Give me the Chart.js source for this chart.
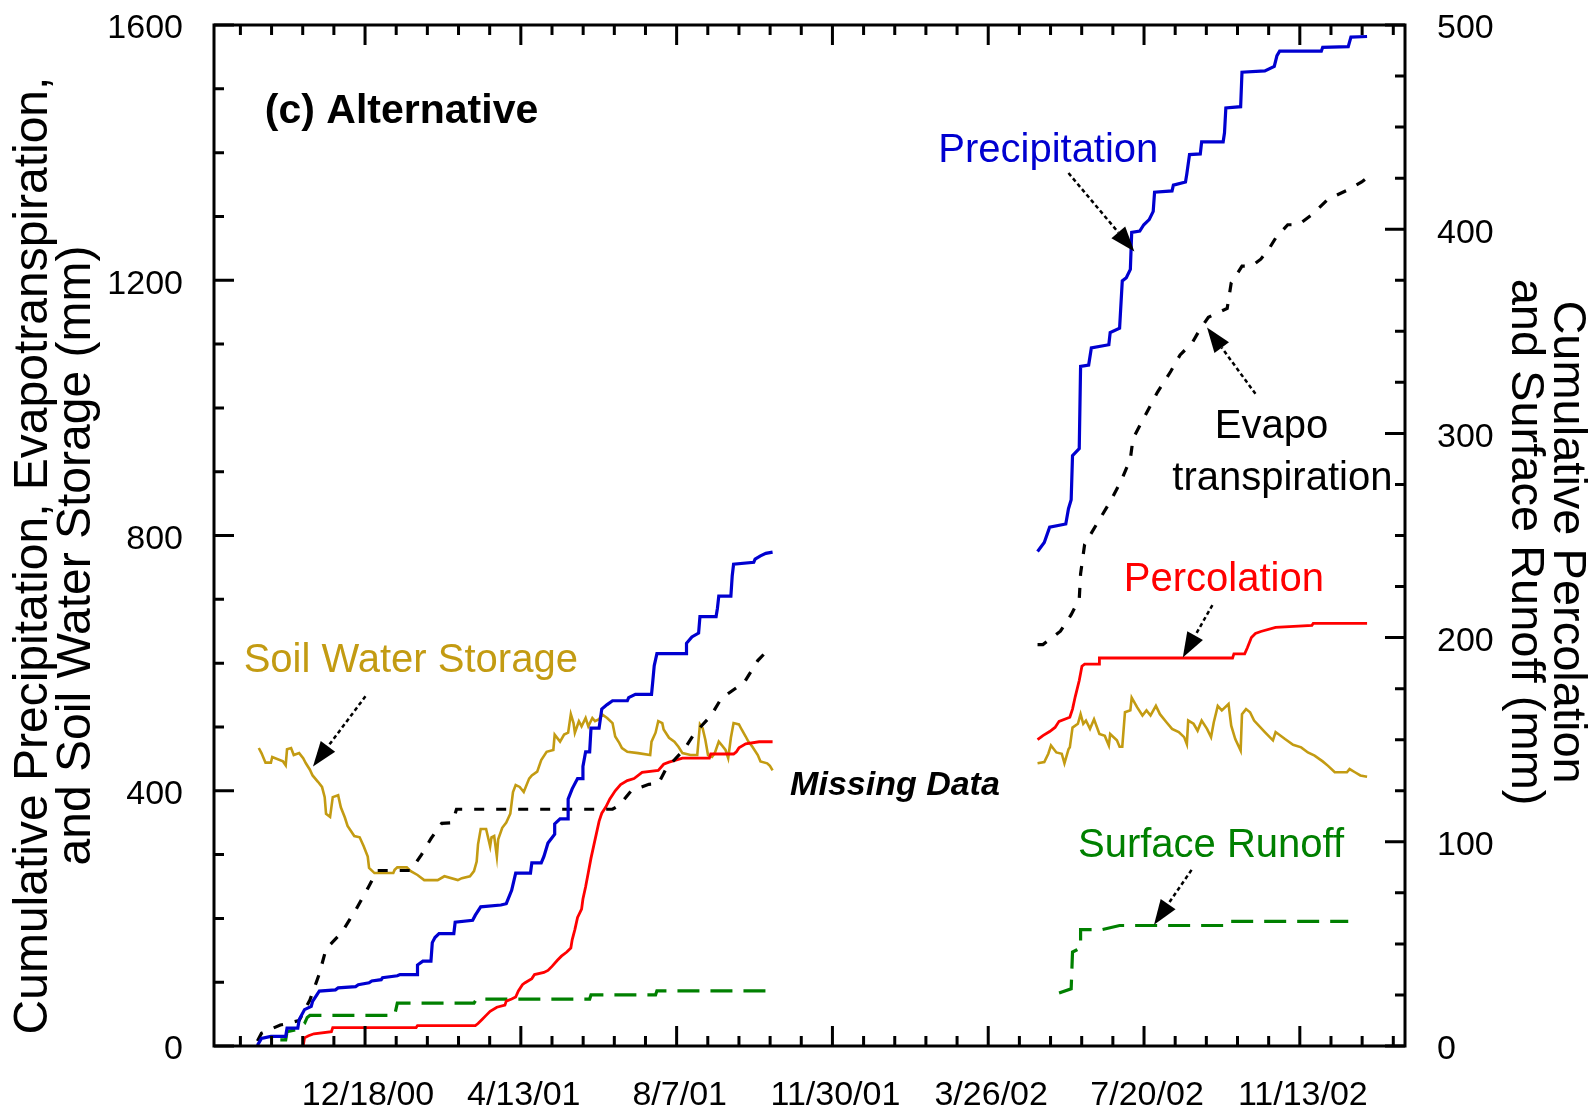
<!DOCTYPE html>
<html>
<head>
<meta charset="utf-8">
<title>(c) Alternative - cumulative water balance</title>
<script src="https://cdn.jsdelivr.net/npm/chart.js@4.4.1/dist/chart.umd.min.js"></script>
<style>
  html, body { margin: 0; padding: 0; background: #fff; }
  canvas { display: block; }
</style>
</head>
<body>
<canvas id="chart" width="1590" height="1109"></canvas>
<script>
// x values are days after 12/18/2000; a null value marks the missing-data gap
const xTickLabels = ['12/18/00', '4/13/01', '8/7/01', '11/30/01', '3/26/02', '7/20/02', '11/13/02'];
const xTickDays = [0, 115.8, 231.7, 347.5, 463.3, 579.2, 695];
const xMin = -112.3, xMax = 773.2;

// Precipitation (mm, left axis)
const precipDays = [-80,-77,-70,-59,-58,-50,-49,-45,-40,-39,-35,-34,-22,-20,-7,-5,3,5,12,13,24,26,39,39,43,49,50,52,55,66,67,80,82,86,101,105,109,112,123,124,131,133,136,141,141,145,151,151,154,158,162,162,164,167,168,174,176,180,184,195,196,201,213,214,215,217,239,239,243,248,249,261,262,263,272,273,274,289,290,294,298,303,
  400,
  500,505,509,521,523,525,526,531,532,538,540,553,554,561,563,566,569,570,576,579,583,586,587,600,601,610,611,613,621,622,638,639,640,651,652,669,676,678,680,711,712,731,733,745];
const precipMm = [1,12,15,15,28,28,41,57,62,70,83,86,88,91,93,96,99,102,104,107,110,112,112,127,133,133,162,170,176,176,194,197,205,218,221,223,244,271,271,287,287,297,318,332,348,356,356,387,403,419,419,438,461,461,498,498,528,535,541,541,546,551,551,573,596,615,615,631,641,647,673,673,686,705,705,737,755,758,763,768,772,774,
  null,
  775,789,813,818,842,856,925,936,1065,1067,1094,1099,1118,1125,1199,1204,1217,1275,1277,1287,1295,1308,1338,1340,1349,1354,1367,1397,1398,1417,1417,1431,1470,1472,1526,1528,1535,1552,1559,1559,1565,1566,1581,1582];

// Evapotranspiration (mm, left axis)
const etDays = [-80,-77,-63,-60,-49,-41,-34,-29,-17,-7,2,9,34,42,49,57,65,68,184,189,198,211,218,224,237,245,257,265,282,292,297,
  400,
  500,504,517,525,531,532,535,544,554,562,569,571,579,589,599,606,615,621,627,641,644,652,659,666,672,677,686,694,704,716,730,741,744];
const etMm = [8,20,33,34,40,72,113,152,179,213,247,275,275,300,325,349,350,371,371,377,400,410,411,435,464,490,517,545,570,604,615,
  null,
  629,629,650,676,700,740,786,818,853,885,920,952,984,1024,1057,1083,1102,1124,1142,1156,1196,1222,1222,1233,1249,1266,1287,1287,1303,1327,1341,1354,1359];

// Soil water storage (mm, left axis)
const soilDays = [-79,-77,-74,-70,-69,-61,-59,-58,-55,-53,-49,-46,-44,-41,-39,-35,-32,-30,-29,-26,-24,-20,-18,-15,-13,-8,-4,-1,2,3,7,21,22,24,31,34,39,44,54,59,69,72,78,81,83,84,86,90,93,94,96,98,99,102,105,108,110,112,115,118,122,124,128,131,135,140,141,145,148,151,153,155,156,159,161,164,166,169,171,174,176,180,184,186,189,191,195,203,212,213,216,218,221,222,226,230,233,236,242,247,249,251,253,255,258,260,263,265,268,270,272,274,278,280,283,285,288,292,294,299,301,303,
  400,
  500,505,508,510,514,518,520,523,524,526,530,532,534,536,539,542,546,550,553,554,559,561,563,565,569,570,574,578,581,584,588,591,596,600,605,609,611,612,616,619,622,626,629,631,634,637,642,644,647,651,652,655,658,661,669,675,677,684,690,696,701,706,712,716,721,730,732,736,740,745];
const soilMm = [467,459,444,444,453,446,440,465,467,456,459,451,443,433,424,414,406,390,364,359,390,393,374,358,345,329,327,313,297,279,271,271,276,280,280,274,268,260,260,266,260,263,266,274,289,316,340,340,313,327,329,297,324,342,350,364,398,409,406,398,419,424,430,448,461,464,488,477,488,491,520,506,491,509,501,514,501,514,509,512,520,514,506,485,475,467,461,459,456,477,491,509,506,496,483,477,469,459,456,456,504,498,480,456,453,459,477,472,464,451,483,506,504,496,485,477,469,456,446,443,439,432,
  null,
  443,445,458,471,460,458,443,465,468,499,505,520,505,510,497,512,489,486,471,489,479,469,469,523,526,546,531,518,526,518,533,520,507,497,492,484,473,510,505,494,510,497,484,507,533,526,536,502,481,463,520,528,523,510,492,479,492,481,472,468,460,455,446,439,429,429,434,429,424,422];

// Percolation (mm, right axis)
const percDays = [-46,-45,-42,-38,-25,-24,38,39,82,84,87,90,93,98,104,105,109,112,114,117,119,124,126,133,136,139,143,146,150,153,154,156,158,161,162,164,166,168,170,172,174,176,179,182,186,190,195,200,206,218,222,226,236,256,257,274,276,278,283,293,303,
  400,
  500,504,509,513,516,524,526,528,531,533,535,546,546,645,646,654,656,659,662,666,677,704,705,745];
const percMm = [0,4,5,6,7,9,9,10,10,11,13,15,17,19,20,22,23,24,27,30,31,33,35,36,37,39,42,44,46,48,52,57,63,67,72,78,85,92,98,104,110,114,117,121,125,128,130,131,134,135,138,139,141,141,143,143,144,146,148,149,149,
  null,
  150,152,154,156,159,161,165,171,179,186,187,187,190,190,192,192,195,200,202,203,205,206,207,207];

// Surface runoff (mm, right axis)
const runoffDays = [-63,-59,-58,-51,-49,-45,-43,-41,22,24,81,83,167,168,216,217,302,
  400,
  516,525,526,529,532,532,548,561,639,640,731];
const runoffMm = [3,3,7,8,9,11,14,15,15,21,21,23,23,25,25,27,27,
  null,
  26,28,46,47,48,57,57,59,59,61,61];

// Labels and pointers placed in data units (day, mm on left axis)
const noteText = ['(c) Alternative', 'Precipitation', 'Evapo', 'transpiration', 'Percolation', 'Soil Water Storage', 'Surface Runoff', 'Missing Data'];
const noteDay = [-74.5, 508, 674, 682, 638.5, 34, 629, 394];
const noteMm = [1446, 1385, 953, 871, 713, 586, 296, 393];
const arrowFrom = [[0.3, 548], [523, 1368], [662, 1022], [630, 691], [614.5, 276]];
const arrowTo = [[-38.7, 438], [572, 1245], [626, 1126], [608, 609], [586.6, 190]];

const SANS = "'Liberation Sans', Arial, sans-serif";
const BLUE = '#0000D0', RED = '#FF0000', GOLD = '#C39B12', GREEN = '#008000';

const noteStyle = [
  { font: 'bold 41px ' + SANS, color: '#000', align: 'left' },
  { font: '40px ' + SANS, color: BLUE, align: 'center' },
  { font: '40px ' + SANS, color: '#000', align: 'center' },
  { font: '40px ' + SANS, color: '#000', align: 'center' },
  { font: '40px ' + SANS, color: RED, align: 'center' },
  { font: '40px ' + SANS, color: GOLD, align: 'center' },
  { font: '40px ' + SANS, color: GREEN, align: 'center' },
  { font: 'italic bold 34px ' + SANS, color: '#000', align: 'center' }
];

function pts(days, vals) {
  return days.map((d, i) => ({ x: d, y: vals[i] }));
}

function noPad(s) {
  s.paddingTop = 0; s.paddingBottom = 0; s.paddingLeft = 0; s.paddingRight = 0;
}

// box round the plot with inward tick marks on all four sides
const frameTicks = {
  id: 'frameTicks',
  afterDatasetsDraw(chart) {
    const { ctx, chartArea: a, scales: { x, yL, yR } } = chart;
    ctx.save();
    ctx.strokeStyle = '#000';
    ctx.lineWidth = 3;
    ctx.strokeRect(a.left, a.top, a.right - a.left, a.bottom - a.top);
    ctx.beginPath();
    const step = (xTickDays[xTickDays.length - 1] - xTickDays[0]) / (xTickDays.length - 1) / 5;
    let v = xTickDays[0];
    while (v - step >= xMin) v -= step;
    for (let i = 0; v + i * step <= xMax; i++) {
      const d = v + i * step;
      const major = xTickDays.some(m => Math.abs(m - d) < 0.5);
      const len = major ? 20 : 10;
      const px = x.getPixelForValue(d);
      ctx.moveTo(px, a.bottom); ctx.lineTo(px, a.bottom - len);
      ctx.moveTo(px, a.top); ctx.lineTo(px, a.top + len);
    }
    for (let m = 0; m <= 1600; m += 100) {
      const py = yL.getPixelForValue(m);
      ctx.moveTo(a.left, py); ctx.lineTo(a.left + (m % 400 === 0 ? 20 : 10), py);
    }
    for (let m = 0; m <= 500; m += 25) {
      const py = yR.getPixelForValue(m);
      ctx.moveTo(a.right, py); ctx.lineTo(a.right - (m % 100 === 0 ? 20 : 10), py);
    }
    ctx.stroke();
    ctx.restore();
  }
};

const notes = {
  id: 'notes',
  afterDatasetsDraw(chart) {
    const { ctx, scales: { x, yL } } = chart;
    ctx.save();
    ctx.textBaseline = 'alphabetic';
    noteText.forEach((t, i) => {
      ctx.font = noteStyle[i].font;
      ctx.fillStyle = noteStyle[i].color;
      ctx.textAlign = noteStyle[i].align;
      ctx.fillText(t, x.getPixelForValue(noteDay[i]), yL.getPixelForValue(noteMm[i]));
    });
    ctx.strokeStyle = '#000';
    ctx.fillStyle = '#000';
    arrowFrom.forEach((f, i) => {
      const x0 = x.getPixelForValue(f[0]), y0 = yL.getPixelForValue(f[1]);
      const x1 = x.getPixelForValue(arrowTo[i][0]), y1 = yL.getPixelForValue(arrowTo[i][1]);
      const ang = Math.atan2(y1 - y0, x1 - x0);
      const c = Math.cos(ang), s = Math.sin(ang);
      const bx = x1 - 25 * c, by = y1 - 25 * s;
      ctx.lineWidth = 2.5;
      ctx.setLineDash([4, 3]);
      ctx.beginPath(); ctx.moveTo(x0, y0); ctx.lineTo(bx, by); ctx.stroke();
      ctx.setLineDash([]);
      ctx.beginPath();
      ctx.moveTo(x1, y1);
      ctx.lineTo(bx - 9 * s, by + 9 * c);
      ctx.lineTo(bx + 9 * s, by - 9 * c);
      ctx.closePath();
      ctx.fill();
    });
    ctx.restore();
  }
};

new Chart(document.getElementById('chart'), {
  type: 'line',
  data: {
    datasets: [
      { label: 'Precipitation', data: pts(precipDays, precipMm), yAxisID: 'yL', borderColor: BLUE, borderWidth: 3.2 },
      { label: 'Evapotranspiration', data: pts(etDays, etMm), yAxisID: 'yL', borderColor: '#000', borderWidth: 3.2, borderDash: [10, 12] },
      { label: 'Percolation', data: pts(percDays, percMm), yAxisID: 'yR', borderColor: RED, borderWidth: 2.8 },
      { label: 'Soil Water Storage', data: pts(soilDays, soilMm), yAxisID: 'yL', borderColor: GOLD, borderWidth: 2.6 },
      { label: 'Surface Runoff', data: pts(runoffDays, runoffMm), yAxisID: 'yR', borderColor: GREEN, borderWidth: 3.2, borderDash: [22, 11] }
    ]
  },
  options: {
    responsive: false,
    animation: false,
    devicePixelRatio: 1,
    layout: { autoPadding: false, padding: { top: 25, left: 0, right: 0, bottom: 0 } },
    elements: { point: { radius: 0, hoverRadius: 0 }, line: { tension: 0, fill: false } },
    plugins: { legend: { display: false }, tooltip: { enabled: false } },
    scales: {
      x: {
        type: 'linear',
        position: 'bottom',
        min: xMin,
        max: xMax,
        grid: { display: false, drawTicks: false },
        border: { display: false },
        afterBuildTicks: s => { s.ticks = xTickDays.map(v => ({ value: v })); },
        afterFit: s => { s.height = 63; noPad(s); },
        ticks: {
          autoSkip: false, maxRotation: 0, padding: 29, labelOffset: 3, color: '#000',
          font: { family: SANS, size: 34 },
          callback: (v, i) => xTickLabels[i]
        }
      },
      yL: {
        position: 'left',
        min: 0, max: 1600,
        grid: { display: false, drawTicks: false },
        border: { display: false },
        afterFit: s => { s.width = 214; noPad(s); },
        ticks: { stepSize: 400, padding: 31, labelOffset: 4, color: '#000', font: { family: SANS, size: 34 }, callback: v => String(v) },
        title: {
          display: true,
          // trailing spaces nudge the centred text toward the bottom, as in the original
          text: ['Cumulative Precipitation, Evapotranspiration,   ', 'and Soil Water Storage (mm)   '],
          color: '#000',
          font: { family: SANS, size: 48, lineHeight: 0.9 },
          padding: { top: 12, bottom: 0 }
        }
      },
      yR: {
        position: 'right',
        min: 0, max: 500,
        grid: { display: false, drawTicks: false },
        border: { display: false },
        afterFit: s => { s.width = 185; noPad(s); },
        ticks: { stepSize: 100, padding: 32, labelOffset: 4, color: '#000', font: { family: SANS, size: 34 }, callback: v => String(v) },
        title: {
          display: true,
          text: [' Cumulative Percolation', ' and Surface Runoff (mm)'],
          color: '#000',
          font: { family: SANS, size: 47, lineHeight: 0.9 },
          padding: { top: 2, bottom: 0 }
        }
      }
    }
  },
  plugins: [frameTicks, notes]
});
</script>
</body>
</html>
